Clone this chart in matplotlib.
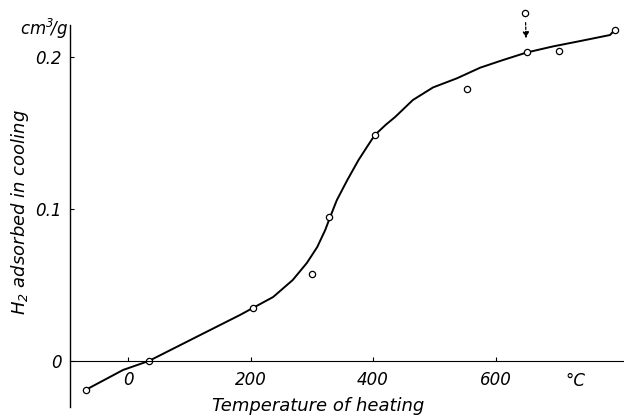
import matplotlib
matplotlib.use('Agg')
import matplotlib.pyplot as plt

# Measured points (temperature of heating in C, H2 adsorbed in cm3/g)
temp_pts = [-69, 34, 204, 300, 328, 403, 553, 651, 704, 795]
h2_pts = [-0.019, 0.0, 0.035, 0.057, 0.095, 0.149, 0.179, 0.203, 0.204, 0.218]

# Point marked with arrow
temp_extra = [648]
h2_extra = [0.229]

# Smooth curve
temp_curve = [-69, -8, 34, 118, 183, 204, 237, 269, 292, 309, 322, 330, 341,
              358, 376, 392, 403, 421, 436, 465, 498, 537, 575, 612, 651,
              694, 738, 787, 795]
h2_curve = [-0.019, -0.0059, 0.0, 0.0171, 0.0303, 0.0349, 0.0421, 0.0533,
            0.0645, 0.075, 0.0862, 0.0947, 0.1059, 0.119, 0.132, 0.142,
            0.1487, 0.1555, 0.1605, 0.1717, 0.180, 0.186, 0.193, 0.198,
            0.203, 0.207, 0.2105, 0.2145, 0.218]

xticks = [0, 200, 400, 600]
yticks = [0, 0.1, 0.2]
ytick_labels = ['0', '0.1', '0.2']

plt.rcParams['font.family'] = ['Liberation Sans Narrow', 'DejaVu Sans']
plt.rcParams['font.style'] = 'italic'

fig = plt.figure(figsize=(6.24, 4.16), dpi=100)
ax = fig.add_axes([0.1122, 0.0216, 0.8878, 0.918])

ax.plot(temp_curve, h2_curve, color='black', lw=1.4, solid_joinstyle='round')
ax.plot(temp_pts, h2_pts, 'o', ms=4.5, mfc='white', mec='black', mew=0.9,
        clip_on=False)
ax.plot(temp_extra, h2_extra, 'o', ms=4.5, mfc='white', mec='black', mew=0.9,
        clip_on=False)

# dashed arrow pointing at the 650 C point
ax.annotate('', xy=(650, 0.2105), xytext=(649, 0.2245),
            arrowprops=dict(arrowstyle='-|>', ls=(0, (2, 1.5)), lw=0.9,
                            color='black', mutation_scale=9),
            annotation_clip=False)

ax.set_xlim(-94.7, 809.8)
ax.set_ylim(-0.0303, 0.221)

for s in ['top', 'right']:
    ax.spines[s].set_visible(False)
ax.spines['bottom'].set_position(('data', 0))
ax.spines['bottom'].set_linewidth(0.8)
ax.spines['left'].set_linewidth(1.0)

ax.set_xticks(xticks)
ax.set_xticklabels([str(t) for t in xticks])
ax.set_yticks(yticks)
ax.set_yticklabels(ytick_labels)
ax.tick_params(direction='in', length=3, width=0.8, labelsize=12)
ax.tick_params(axis='x', pad=7)
ax.tick_params(axis='y', pad=6)

ax.text(730, -0.0132, '°C', ha='center', va='center', fontsize=12)

fig.text(0.07, 0.93, 'cm$^3\\!$/g', ha='center', va='center', fontsize=12)
fig.text(0.51, 0.025, 'Temperature of heating', ha='center', va='center',
         fontsize=13)
fig.text(0.032, 0.49, 'H$_2$ adsorbed in cooling', ha='center', va='center',
         rotation=90, fontsize=13)

plt.savefig('out.png', dpi=100)
